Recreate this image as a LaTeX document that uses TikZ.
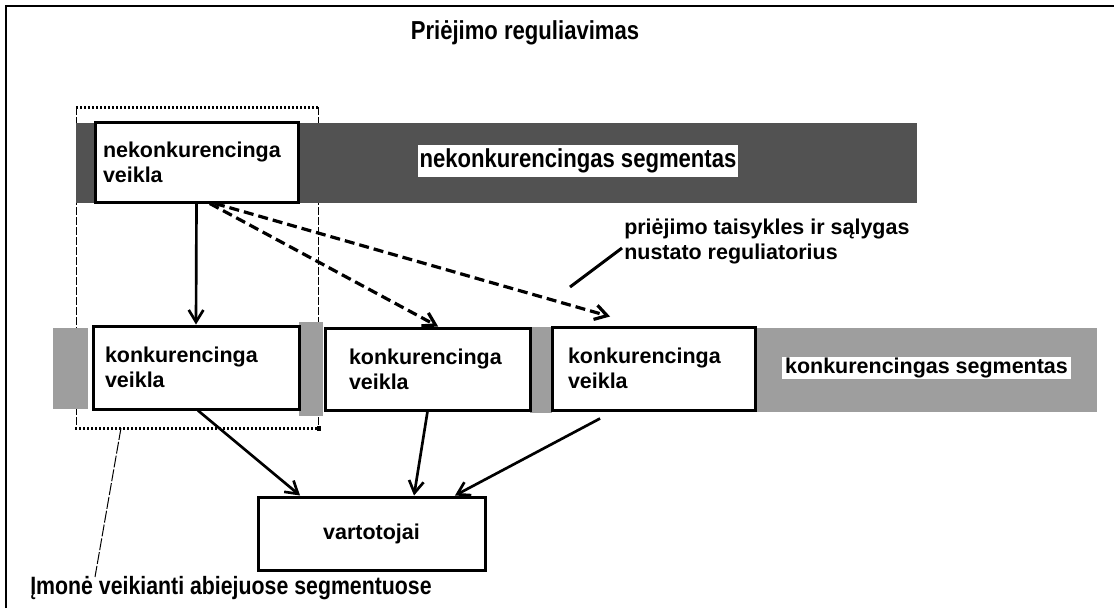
\documentclass[tikz,border=0pt]{standalone}
\usepackage{fontspec}
\setmainfont{Liberation Sans}
\newfontfamily\condfont[FakeStretch=0.85]{Liberation Sans}
\usetikzlibrary{arrows.meta}
\newcommand{\bxfont}{\bfseries\fontsize{16.1pt}{18.75pt}\selectfont}
\newcommand{\cdtext}{\condfont\bfseries\fontsize{19.5pt}{22pt}\selectfont}
\newcommand{\cdsmall}{\condfont\bfseries\fontsize{18.8pt}{22pt}\selectfont}
\begin{document}
\begin{tikzpicture}[x=0.75pt,y=-0.75pt,
  box/.style={draw=black, line width=2.25pt, fill=white, font=\bxfont, align=left, inner ysep=0pt},
  arr/.style={line width=2pt, -{Straight Barb[length=9pt,width=11pt]}},
  darr/.style={line width=2.4pt, dash pattern=on 7.5pt off 3.75pt, -{Straight Barb[length=9pt,width=11pt]}},
  side/.style={line width=0.75pt, dash pattern=on 6pt off 1.5pt},
  dotedge/.style={line width=2.25pt, dash pattern=on 1.5pt off 1.5pt},
  lightband/.style={fill=black!38},
  darkband/.style={fill=black!68},
  leader/.style={line width=0.75pt, dash pattern=on 9pt off 1.5pt}
]
\useasboundingbox (0,0) rectangle (1114,608);
\fill[white] (0,0) rectangle (1114,608);
% frame
\draw[line width=2pt] (6,608) -- (6,6) -- (1114,6);
% group (sides)
\draw[side] (76,107) -- (76,428);
\draw[side] (318,107) -- (318,428);
% bands
\fill[darkband] (76,123) rectangle (917,203);
\fill[lightband] (53,328) rectangle (88,409);
\fill[lightband] (299,322) rectangle (323,416);
\fill[lightband] (530,327) rectangle (552,413);
\fill[lightband] (755,328) rectangle (1097,412);
% group (top/bottom)
\draw[dotedge] (76,107) -- (318,107);
\draw[dotedge] (75,428) -- (319,428);
\fill[black] (316.5,425.5) rectangle (320.5,430.5);
% texts
\node[font=\cdtext, inner sep=0pt] (title) at (525,33) {Priėjimo reguliavimas};
\node[fill=white, font=\cdtext, inner xsep=1.5pt, inner ysep=3pt] (nseg) at (578,161) {nekonkurencingas segmentas};
\node[fill=white, font=\bxfont, inner xsep=2.25pt, inner ysep=0.75pt] (kseg) at (926.5,368) {konkurencingas segmentas};
\node[font=\bxfont, align=left, anchor=west, inner sep=0pt] (prie) at (624,241) {priėjimo taisykles ir sąlygas\\nustato reguliatorius};
\node[font=\cdsmall, anchor=west, inner sep=0pt] (imone) at (30,588) {Įmonė veikianti abiejuose segmentuose};
% boxes
\node[box, minimum width=152.25pt, minimum height=60pt, text width=140.25pt, inner xsep=6pt] (nek) at (196.5,162) {nekonkurencinga\\veikla};
\node[box, minimum width=154.5pt, minimum height=62.25pt, text width=136.5pt, inner xsep=9pt] (k1) at (196,367.5) {konkurencinga\\veikla};
\node[box, minimum width=153.75pt, minimum height=61.5pt, text width=117.75pt, inner xsep=18pt] (k2) at (427.5,369) {konkurencinga\\veikla};
\node[box, minimum width=152.25pt, minimum height=62.25pt, text width=128.25pt, inner xsep=12pt] (k3) at (653.5,368.5) {konkurencinga\\veikla};
\node[box, minimum width=170.25pt, minimum height=54.75pt, align=center] (vart) at (371.5,533.5) {vartotojai};
% connectors
\draw[arr] (nek.south) -- (k1.north);
\draw[darr] ([xshift=10pt]nek.south) -- ([xshift=8pt]k2.north);
\draw[darr] ([xshift=13.9pt]nek.south) -- ([xshift=-32.6pt,yshift=6.75pt]k3.north);
\draw[arr] ([xshift=1.5pt]k1.south) -- ([xshift=-53.6pt]vart.north);
\draw[arr] (k2.south) -- ([xshift=31.9pt]vart.north);
\draw[arr] ([xshift=-40.1pt,yshift=-5.25pt]k3.south) -- ([xshift=62.6pt]vart.north);
% leaders
\coordinate (pl) at (570,287);
\draw[line width=2.25pt] (pl) -- ([xshift=-1.5pt,yshift=-5.25pt]prie.west);
\coordinate (gb) at (121,428);
\coordinate (gt) at (95,577);
\draw[leader] (gb) -- (gt);
\end{tikzpicture}
\end{document}
